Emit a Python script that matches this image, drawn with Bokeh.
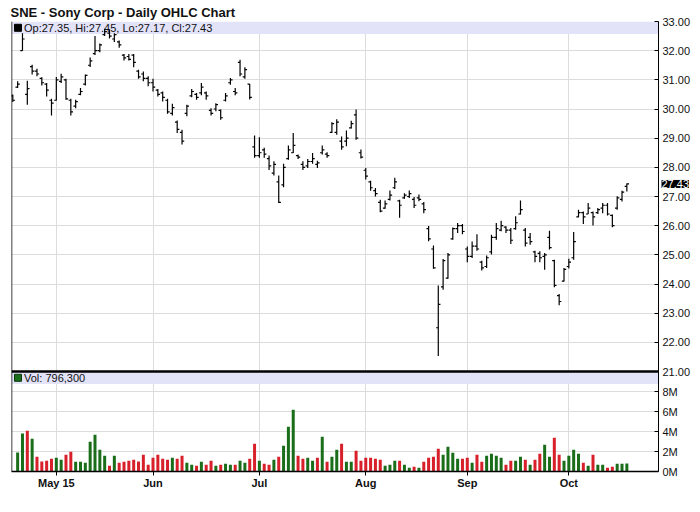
from bokeh.plotting import figure
from bokeh.models import (Range1d, FixedTicker, Span, Label,
                          CustomJSTickFormatter)
from bokeh.embed import file_html
from bokeh.resources import INLINE

# ---------------- data ----------------
title_text = "SNE - Sony Corp - Daily OHLC Chart"

opens = [30.45, 30.75, 32.0, 30.5, 31.45, 31.3, 31.05, 30.85, 30.3, 30.3,
         30.95, 31.0, 30.3, 30.1, 30.5, 30.85, 31.5, 31.9, 32.0, 32.55,
         32.6, 32.4, 32.3, 31.85, 31.8, 31.85, 31.3, 31.2, 31.05, 30.9,
         30.65, 30.55, 30.3, 29.85, 29.55, 29.2, 29.85, 30.45, 30.5, 30.55,
         30.55, 29.95, 30.0, 29.95, 30.3, 30.9, 30.6, 31.6, 31.1, 30.85,
         28.7, 28.4, 28.6, 28.3, 27.8, 27.5, 27.4, 28.3, 28.5, 28.4,
         28.1, 28.05, 28.2, 28.1, 28.5, 28.45, 29.2, 29.2, 28.9, 28.9,
         29.35, 29.8, 28.5, 27.9, 27.5, 27.2, 26.8, 26.6, 26.9, 27.3,
         26.85, 26.95, 27.0, 26.9, 26.95, 26.75, 25.9, 25.2, 22.5, 23.9,
         24.2, 25.55, 25.9, 26.0, 25.2, 24.95, 25.3, 24.75, 24.6, 25.1,
         25.6, 25.85, 25.95, 25.85, 25.9, 26.4, 25.85, 25.6, 25.1, 25.05,
         24.95, 25.6, 24.8, 23.6, 24.1, 24.6, 24.9, 26.3, 26.45, 26.4,
         26.45, 26.45, 26.6, 26.7, 26.35, 26.6, 26.9, 27.35]
highs = [30.50, 30.95, 32.6, 30.97, 31.52, 31.38, 31.09, 30.89, 30.35, 31.1,
         31.21, 31.04, 30.35, 30.32, 30.72, 31.18, 31.77, 32.5, 32.25, 32.75,
         32.72, 32.6, 32.35, 31.89, 31.89, 31.89, 31.35, 31.29, 31.12, 31.04,
         30.69, 30.6, 30.35, 30.18, 29.61, 29.29, 30.15, 30.69, 30.55, 30.89,
         30.6, 30.03, 30.2, 29.98, 30.55, 31.06, 30.72, 31.69, 31.43, 30.86,
         29.09, 29.03, 28.67, 28.41, 28.21, 27.72, 28.12, 28.75, 29.18, 28.44,
         28.21, 28.29, 28.49, 28.23, 28.75, 28.52, 29.55, 29.65, 29.06, 29.26,
         29.6, 29.98, 28.61, 27.98, 27.54, 27.29, 26.89, 26.86, 27.21, 27.64,
         26.89, 27.11, 27.21, 26.98, 27.07, 26.81, 25.99, 25.32, 23.95, 24.86,
         25.06, 25.94, 26.09, 26.06, 25.29, 25.46, 25.71, 24.8, 24.98, 25.69,
         26.09, 26.17, 25.98, 25.92, 26.32, 26.86, 25.92, 25.75, 25.14, 25.12,
         25.06, 25.83, 24.83, 23.66, 24.55, 24.87, 25.78, 26.55, 26.49, 26.78,
         26.49, 26.61, 26.78, 26.78, 26.38, 27.01, 27.2, 27.45]
lows = [30.24, 30.72, 32.0, 30.15, 31.18, 31.12, 30.81, 30.43, 29.78, 30.29,
        30.89, 30.32, 29.78, 30.03, 30.47, 30.81, 31.44, 31.85, 31.95, 32.5,
        32.42, 32.3, 32.1, 31.66, 31.66, 31.43, 31.04, 30.95, 30.78, 30.6,
        30.43, 30.26, 29.84, 29.78, 29.18, 28.78, 29.75, 30.4, 30.32, 30.47,
        30.32, 29.78, 29.92, 29.63, 30.26, 30.83, 30.47, 31.12, 31.04, 30.33,
        28.33, 28.33, 28.33, 27.91, 27.72, 26.78, 27.32, 28.26, 28.49, 28.29,
        27.91, 27.98, 28.12, 27.98, 28.44, 28.33, 29.18, 29.12, 28.6, 28.72,
        29.33, 28.95, 28.3, 27.58, 27.2, 27.0, 26.46, 26.58, 26.86, 27.26,
        26.27, 26.92, 26.95, 26.61, 26.84, 26.43, 25.47, 24.52, 21.53, 23.8,
        24.18, 25.52, 25.75, 25.71, 24.75, 24.89, 25.14, 24.46, 24.55, 25.01,
        25.52, 25.81, 25.75, 25.37, 25.86, 26.38, 25.29, 25.35, 24.75, 24.75,
        24.49, 25.18, 23.89, 23.27, 24.09, 24.53, 24.83, 26.29, 26.06, 26.4,
        26.01, 26.4, 26.43, 26.35, 25.95, 26.55, 26.83, 27.17]
closes = [30.30, 30.85, 32.4, 30.7, 31.3, 31.2, 30.9, 30.65, 30.2, 31.0,
          31.1, 30.35, 29.9, 30.25, 30.6, 31.15, 31.65, 32.0, 32.2, 32.65,
          32.5, 32.55, 32.2, 31.75, 31.7, 31.6, 31.1, 31.05, 30.9, 30.75,
          30.5, 30.4, 29.9, 30.05, 29.3, 28.9, 30.1, 30.6, 30.4, 30.75,
          30.45, 29.85, 30.15, 29.7, 30.45, 31.0, 30.55, 31.2, 31.35, 30.4,
          28.4, 28.5, 28.45, 28.05, 28.1, 26.8, 28.0, 28.6, 28.75, 28.35,
          28.0, 28.2, 28.3, 28.15, 28.6, 28.4, 29.5, 29.55, 28.7, 29.0,
          29.5, 29.0, 28.35, 27.7, 27.3, 27.1, 26.5, 26.75, 27.05, 27.5,
          26.7, 27.05, 27.1, 26.7, 26.9, 26.55, 25.55, 24.55, 23.3, 24.8,
          25.0, 25.9, 26.0, 25.8, 24.95, 25.3, 25.2, 24.55, 24.9, 25.6,
          25.9, 26.0, 25.85, 25.5, 26.1, 26.55, 25.4, 25.45, 24.95, 24.9,
          25.0, 25.25, 23.95, 23.4, 24.5, 24.75, 25.45, 26.45, 26.3, 26.6,
          26.3, 26.55, 26.7, 26.4, 26.0, 26.95, 27.15, 27.43]
# volume (millions of shares) for bars 1..127 (first bar has no volume shown)
volumes_m = [1.9, 3.8, 4.07, 3.27, 1.47, 1.0, 1.07, 1.27, 1.37, 1.17,
             1.67, 1.97, 0.97, 0.97, 0.87, 2.97, 3.67, 2.17, 1.57, 0.57,
             1.57, 0.87, 0.97, 1.07, 1.17, 1.0, 1.67, 0.67, 1.37, 1.67,
             1.27, 1.17, 1.37, 1.27, 1.57, 0.87, 0.67, 0.57, 0.97, 0.67,
             1.07, 0.57, 0.67, 0.77, 0.67, 0.67, 1.07, 0.87, 1.27, 2.77,
             1.07, 0.77, 0.67, 1.17, 1.47, 2.57, 4.47, 6.17, 1.57, 1.27,
             1.37, 1.07, 1.37, 3.47, 0.97, 1.47, 2.17, 2.77, 0.97, 0.97,
             2.07, 1.07, 1.37, 1.37, 1.27, 1.17, 0.57, 0.67, 1.07, 1.07,
             0.67, 0.37, 0.47, 0.37, 0.97, 1.37, 1.47, 2.27, 1.67, 2.47,
             1.87, 1.27, 1.27, 1.37, 0.87, 1.67, 0.97, 1.57, 1.77, 1.57,
             1.37, 0.67, 1.07, 1.07, 1.47, 1.17, 0.67, 1.17, 1.77, 2.67,
             1.47, 3.37, 1.67, 1.07, 1.57, 2.17, 1.77, 0.87, 0.57, 1.67,
             0.67, 0.67, 0.37, 0.47, 0.77, 0.77, 0.7963]
month_ticks = [9, 29, 51, 73, 94, 115]
month_labels = ["May 15", "Jun", "Jul", "Aug", "Sep", "Oct"]
price_ticks = [21, 22, 23, 24, 25, 26, 27, 28, 29, 30, 31, 32, 33]
vol_ticks = [0, 2, 4, 6, 8]

# ---------------- layout constants ----------------
FONT = "Liberation Sans"
GREEN = "#1a6e1a"
RED = "#d8202a"
GRID = "#dcdcdc"
BAND = "#e2e2f8"
FRAME_W = 647
PRICE_H = 350
VOL_H = 100
BAR_PX = 4.835
X0 = -0.27
X1 = X0 + FRAME_W / BAR_PX
PX = 1.0 / BAR_PX                       # data units per pixel (x)
P_LO, P_HI = 21, 33
PY = (P_HI - P_LO) / PRICE_H             # price units per pixel
V_LO, V_HI = 0, 10
Y_START = P_LO - VOL_H * PY              # bottom of volume pane, in price units
VSCALE = VOL_H * PY / (V_HI - V_LO)      # price units per million shares
BAND_PX = 12.5

x_idx = list(range(len(closes)))
vol_idx = x_idx[1:]
up = [True] + [closes[i] >= closes[i - 1] for i in range(1, len(closes))]
vol_colors = [GREEN if up[i] else RED for i in vol_idx]

p = figure(x_range=Range1d(X0, X1), y_range=Range1d(Y_START, P_HI),
           frame_width=FRAME_W, frame_height=PRICE_H + VOL_H,
           min_border_left=11, min_border_right=0, min_border_top=21,
           min_border_bottom=4, toolbar_location=None, output_backend="svg",
           y_axis_location="right", title=title_text,
           background_fill_color="white", border_fill_color="white",
           outline_line_color=None)
p.extra_y_ranges = {"vol": Range1d(0, (P_HI - Y_START) / VSCALE)}

p.title.text_font = FONT
p.title.text_font_size = "13px"
p.title.text_font_style = "bold"
p.title.text_color = "#111111"
p.title.align = "left"
p.title.offset = -1
p.title.standoff = 4

# axes / grids
all_y_ticks = [Y_START + v * VSCALE for v in vol_ticks] + price_ticks
p.yaxis.ticker = FixedTicker(ticks=all_y_ticks)
p.ygrid.ticker = FixedTicker(ticks=all_y_ticks)
p.ygrid.grid_line_color = GRID
p.yaxis.formatter = CustomJSTickFormatter(
    args=dict(split=P_LO, base=Y_START, scale=VSCALE),
    code="""
    if (tick >= split - 1e-6) { return tick.toFixed(2); }
    return Math.round((tick - base) / scale) + 'M';
    """)
p.yaxis.major_tick_in = 4
p.yaxis.major_tick_out = 0
p.yaxis.minor_tick_line_color = None
p.yaxis.axis_line_color = "black"
p.yaxis.major_label_standoff = 4
p.yaxis.major_label_text_font = FONT
p.yaxis.major_label_text_font_size = "11px"
p.yaxis.major_label_text_color = "#111111"

p.xaxis.ticker = FixedTicker(ticks=month_ticks)
p.xgrid.ticker = FixedTicker(ticks=month_ticks)
p.xgrid.grid_line_color = GRID
p.xaxis.major_label_overrides = {t: lab for t, lab in zip(month_ticks, month_labels)}
p.xaxis.major_tick_in = 0
p.xaxis.major_tick_out = 4
p.xaxis.minor_tick_line_color = None
p.xaxis.axis_line_width = 1.5
p.xaxis.major_label_standoff = 1
p.xaxis.major_label_text_font = FONT
p.xaxis.major_label_text_font_size = "11px"
p.xaxis.major_label_text_font_style = "bold"
p.xaxis.major_label_text_color = "#111111"

# legend bands
p.quad(left=[X0, X0], right=[X1, X1],
       top=[P_HI, P_LO], bottom=[P_HI - BAND_PX * PY, P_LO - BAND_PX * PY],
       fill_color=BAND, line_color=None)
p.scatter(x=[X0 + 6.5 * PX], y=[P_HI - 6.3 * PY], marker="square", size=7,
          fill_color="black", line_color="black")
p.scatter(x=[X0 + 6.5 * PX], y=[P_LO - 6.3 * PY], marker="square", size=7,
          fill_color=GREEN, line_color="#0b3a0b")
p.add_layout(Label(x=X0 + 12.5 * PX, y=P_HI - 6.3 * PY,
                   text="Op:%.2f, Hi:%.2f, Lo:%.2f, Cl:%.2f" % (opens[-1], highs[-1], lows[-1], closes[-1]),
                   text_font=FONT, text_font_size="11px", text_baseline="middle",
                   text_color="#111111"))
p.add_layout(Label(x=X0 + 12.5 * PX, y=P_LO - 6.3 * PY,
                   text="Vol: {:,}".format(int(round(volumes_m[-1] * 1e6))),
                   text_font=FONT, text_font_size="11px", text_baseline="middle",
                   text_color="#111111"))

# volume bars
p.vbar(x=vol_idx, top=volumes_m, bottom=0, width=0.62, fill_color=vol_colors,
       line_color=None, y_range_name="vol")

# OHLC bars
p.segment(x0=x_idx, y0=lows, x1=x_idx, y1=highs, line_color="black", line_width=1.2)
p.segment(x0=[i - 0.45 for i in x_idx], y0=opens, x1=x_idx, y1=opens,
          line_color="black", line_width=1.2)
p.segment(x0=x_idx, y0=closes, x1=[i + 0.45 for i in x_idx], y1=closes,
          line_color="black", line_width=1.2)

# frame lines
p.add_layout(Span(location=X0, dimension="height", line_color="black", line_width=1.5))
p.add_layout(Span(location=P_LO, dimension="width", line_color="black", line_width=2.5))

# last price tag: placed in a side panel so it is not clipped to the frame;
# its position still comes from the data scales (right edge of x range, last close)
p.add_layout(Label(x=X1, y=closes[-1], x_offset=3,
                   text="%.2f" % closes[-1],
                   text_font=FONT, text_font_size="11px", text_baseline="middle",
                   text_color="white", background_fill_color="black"), "below")

open("out.html", "w").write(file_html(p, INLINE))
